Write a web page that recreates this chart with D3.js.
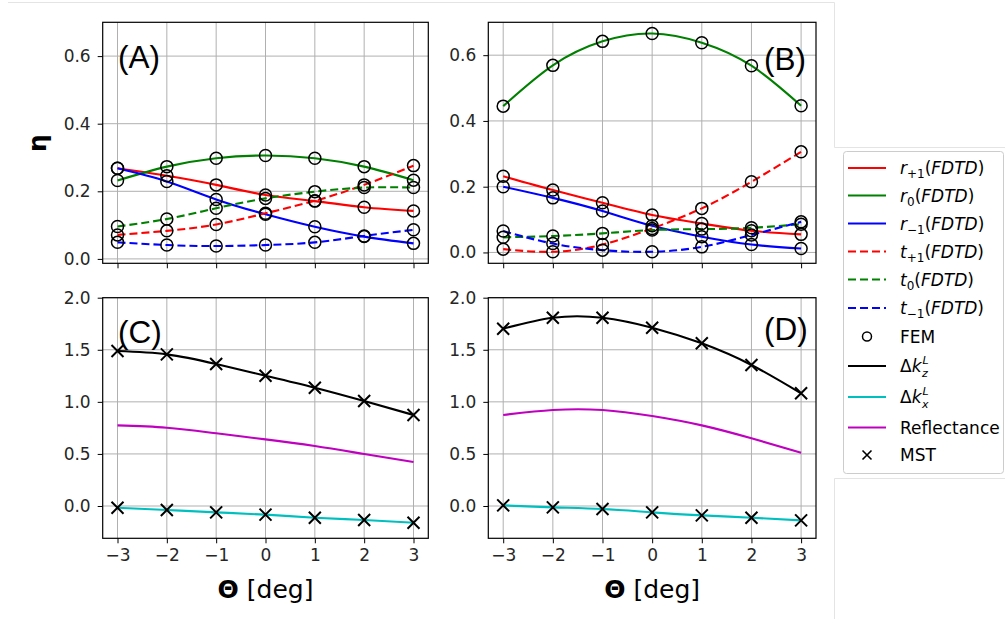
<!DOCTYPE html>
<html><head><meta charset="utf-8">
<script src="https://cdn.jsdelivr.net/npm/d3@7"></script>
<style>
html,body{margin:0;padding:0;background:#fff;}
svg{display:block;font-family:"DejaVu Sans",sans-serif;}
</style></head>
<body>
<svg id="chart" width="1005" height="619"></svg>
<script>
// ---------- data ----------
const theta = [-3, -2, -1, 0, 1, 2, 3];

// Panel A (efficiencies)
const aRp1 = [0.268, 0.246, 0.219, 0.189, 0.171, 0.153, 0.142];
const aR0  = [0.232, 0.273, 0.298, 0.306, 0.298, 0.273, 0.233];
const aRm1 = [0.268, 0.229, 0.176, 0.132, 0.095, 0.066, 0.046];
const aTp1 = [0.071, 0.083, 0.102, 0.135, 0.172, 0.219, 0.276];
const aT0  = [0.096, 0.118, 0.150, 0.179, 0.199, 0.211, 0.211];
const aTm1 = [0.049, 0.041, 0.038, 0.041, 0.049, 0.068, 0.086];

// Panel B (efficiencies)
const bRp1 = [0.232, 0.190, 0.151, 0.114, 0.088, 0.066, 0.055];
const bR0  = [0.445, 0.569, 0.642, 0.666, 0.638, 0.568, 0.446];
const bRm1 = [0.200, 0.166, 0.126, 0.081, 0.048, 0.024, 0.012];
const bTp1 = [0.010, 0.002, 0.024, 0.073, 0.134, 0.215, 0.306];
const bT0  = [0.046, 0.050, 0.058, 0.068, 0.071, 0.075, 0.086];
const bTm1 = [0.065, 0.027, 0.007, 0.002, 0.017, 0.053, 0.093];

// Panel C
const cDkz  = [1.488, 1.456, 1.363, 1.251, 1.136, 1.008, 0.874];
const cDkx  = [-0.016, -0.038, -0.061, -0.083, -0.112, -0.134, -0.160];
const cRefl = [0.774, 0.752, 0.698, 0.640, 0.576, 0.499, 0.422];

// Panel D
const dDkz  = [1.702, 1.808, 1.808, 1.712, 1.562, 1.354, 1.082];
const dDkx  = [0.006, -0.013, -0.029, -0.061, -0.090, -0.112, -0.138];
const dRefl = [0.874, 0.922, 0.922, 0.864, 0.774, 0.650, 0.512];

const xTicks = [-3, -2, -1, 0, 1, 2, 3];
const yTicksTop = [0.0, 0.2, 0.4, 0.6];
const yTicksBottom = [0.0, 0.5, 1.0, 1.5, 2.0];

// ---------- drawing ----------
const svg = d3.select("#chart");
const RED = "#ff0000", GREEN = "#008000", BLUE = "#0000ff",
      CYAN = "#00bfbf", MAG = "#bf00bf", BLACK = "#000000";

// faint background frame artifacts
const art = svg.append("g").attr("stroke", "#e4e4e4").attr("stroke-width", 1).attr("fill", "none");
art.append("path").attr("d", "M8,2.5H834.5V147.5H1005");
art.append("path").attr("d", "M1005,478.5H834.5V619");

function panel(opt) {
  const g = svg.append("g");
  const x = d3.scaleLinear().domain([-3.3, 3.3]).range([opt.left, opt.right]);
  const y = d3.scaleLinear().domain(opt.ydom).range([opt.bottom, opt.top]);
  // grid
  const grid = g.append("g").attr("stroke", "#b0b0b0").attr("stroke-width", 1);
  xTicks.forEach(t => grid.append("line").attr("x1", x(t)).attr("x2", x(t)).attr("y1", opt.top).attr("y2", opt.bottom));
  opt.yticks.forEach(t => grid.append("line").attr("y1", y(t)).attr("y2", y(t)).attr("x1", opt.left).attr("x2", opt.right));
  // axes
  const xa = d3.axisBottom(x).tickValues(xTicks).tickSizeOuter(0).tickSize(5).tickPadding(6)
    .tickFormat(opt.xlabels ? (d => d < 0 ? "\u2212" + Math.abs(d) : String(d)) : "");
  const ya = d3.axisLeft(y).tickValues(opt.yticks).tickSizeOuter(0).tickSize(5).tickPadding(7)
    .tickFormat(d3.format(".1f"));
  const gx = g.append("g").attr("transform", `translate(0,${opt.bottom})`).call(xa);
  const gy = g.append("g").attr("transform", `translate(${opt.left},0)`).call(ya);
  [gx, gy].forEach(a => {
    a.select(".domain").remove();
    a.selectAll("text").attr("font-size", 17).attr("fill", "#262626").attr("font-family", "DejaVu Sans");
    a.selectAll("line").attr("stroke", "#000");
  });
  const clip = "clip" + opt.name;
  g.append("clipPath").attr("id", clip).append("rect")
    .attr("x", opt.left).attr("y", opt.top).attr("width", opt.right - opt.left).attr("height", opt.bottom - opt.top);
  const plot = g.append("g").attr("clip-path", `url(#${clip})`);
  const line = d3.line().x((d, i) => x(theta[i])).y(d => y(d)).curve(d3.curveNatural);
  opt.series.forEach(s => {
    plot.append("path").attr("d", line(s.v)).attr("fill", "none").attr("stroke", s.c)
      .attr("stroke-width", 2.1).attr("stroke-dasharray", s.dash ? "8,4" : null);
  });
  // markers
  (opt.circles || []).forEach(arr => arr.forEach((v, i) => {
    g.append("circle").attr("cx", x(theta[i])).attr("cy", y(v)).attr("r", 6)
      .attr("fill", "none").attr("stroke", "#000").attr("stroke-width", 1.5);
  }));
  (opt.crosses || []).forEach(arr => arr.forEach((v, i) => {
    const cx = x(theta[i]), cy = y(v), s = 6;
    g.append("path").attr("d", `M${cx - s},${cy - s}L${cx + s},${cy + s}M${cx - s},${cy + s}L${cx + s},${cy - s}`)
      .attr("stroke", "#000").attr("stroke-width", 2);
  }));
  // frame
  g.append("rect").attr("x", opt.left).attr("y", opt.top).attr("width", opt.right - opt.left)
    .attr("height", opt.bottom - opt.top).attr("fill", "none").attr("stroke", "#000").attr("stroke-width", 1.2);
  // label
  g.append("text").attr("x", opt.lx).attr("y", opt.ly).attr("font-family", "Liberation Sans, Arial, sans-serif")
    .attr("font-size", 31.5).attr("fill", "#000").text(opt.label);
  if (opt.xlabels) {
    const t = g.append("text").attr("x", (opt.left + opt.right) / 2).attr("y", 598)
      .attr("text-anchor", "middle").attr("font-size", 25).attr("fill", "#000");
    t.append("tspan").attr("font-weight", "bold").text("\u0398");
    t.append("tspan").text(" [deg]");
  }
  return {x, y};
}

const topSeries = (r1, r0, rm1, t1, t0, tm1) => [
  {v: r1, c: RED}, {v: r0, c: GREEN}, {v: rm1, c: BLUE},
  {v: t1, c: RED, dash: true}, {v: t0, c: GREEN, dash: true}, {v: tm1, c: BLUE, dash: true}
];

panel({name: "A", left: 102.7, right: 428.3, top: 22.3, bottom: 263.3, ydom: [-0.013, 0.70],
  yticks: yTicksTop, xlabels: false, label: "(A)", lx: 118, ly: 68,
  series: topSeries(aRp1, aR0, aRm1, aTp1, aT0, aTm1),
  circles: [aRp1, aR0, aRm1, aTp1, aT0, aTm1]});
panel({name: "B", left: 488.3, right: 816, top: 22.3, bottom: 263.3, ydom: [-0.033, 0.70],
  yticks: yTicksTop, xlabels: false, label: "(B)", lx: 764, ly: 70,
  series: topSeries(bRp1, bR0, bRm1, bTp1, bT0, bTm1),
  circles: [bRp1, bR0, bRm1, bTp1, bT0, bTm1]});
panel({name: "C", left: 102.7, right: 428.3, top: 297.7, bottom: 538.3, ydom: [-0.31, 2.0],
  yticks: yTicksBottom, xlabels: true, label: "(C)", lx: 118, ly: 343,
  series: [{v: cDkz, c: BLACK}, {v: cDkx, c: CYAN}, {v: cRefl, c: MAG}],
  crosses: [cDkz, cDkx]});
panel({name: "D", left: 488.3, right: 816, top: 297.7, bottom: 538.3, ydom: [-0.31, 2.0],
  yticks: yTicksBottom, xlabels: true, label: "(D)", lx: 764, ly: 340,
  series: [{v: dDkz, c: BLACK}, {v: dDkx, c: CYAN}, {v: dRefl, c: MAG}],
  crosses: [dDkz, dDkx]});

// y label
svg.append("text").attr("transform", "translate(46,143) rotate(-90)").attr("text-anchor", "middle")
  .attr("font-size", 25).attr("font-weight", "bold").attr("fill", "#000").text("\u03b7");

// ---------- legend ----------
const leg = svg.append("g");
leg.append("rect").attr("x", 843.5).attr("y", 151.5).attr("width", 160).attr("height", 322).attr("rx", 3)
  .attr("fill", "#fff").attr("stroke", "#cccccc").attr("stroke-width", 1);
const legItems = [
  {type: "line", c: RED, base: "r", sub: "+1", y: 168},
  {type: "line", c: GREEN, base: "r", sub: "0", y: 195.5},
  {type: "line", c: BLUE, base: "r", sub: "\u22121", y: 223.5},
  {type: "dash", c: RED, base: "t", sub: "+1", y: 251.5},
  {type: "dash", c: GREEN, base: "t", sub: "0", y: 279.5},
  {type: "dash", c: BLUE, base: "t", sub: "\u22121", y: 308},
  {type: "circle", text: "FEM", y: 336.5},
  {type: "line", c: BLACK, dk: "z", y: 366},
  {type: "line", c: CYAN, dk: "x", y: 397},
  {type: "line", c: MAG, text: "Reflectance", y: 427.5},
  {type: "cross", text: "MST", y: 455}
];
const FS = 17;
legItems.forEach(it => {
  const gy = it.y;
  if (it.type === "line" || it.type === "dash") {
    leg.append("line").attr("x1", 848).attr("x2", 886).attr("y1", gy).attr("y2", gy)
      .attr("stroke", it.c).attr("stroke-width", 2.1).attr("stroke-dasharray", it.type === "dash" ? "8,4" : null);
  } else if (it.type === "circle") {
    leg.append("circle").attr("cx", 867).attr("cy", gy).attr("r", 4.5).attr("fill", "none")
      .attr("stroke", "#000").attr("stroke-width", 1.5);
  } else if (it.type === "cross") {
    const s = 4.5;
    leg.append("path").attr("d", `M${867 - s},${gy - s}L${867 + s},${gy + s}M${867 - s},${gy + s}L${867 + s},${gy - s}`)
      .attr("stroke", "#000").attr("stroke-width", 1.6);
  }
  const tx = 900, ty = gy + 6;
  if (it.text) {
    leg.append("text").attr("x", tx).attr("y", ty).attr("font-size", FS).attr("fill", "#000").text(it.text);
  } else if (it.base) {
    const t = leg.append("text").attr("x", tx).attr("y", ty).attr("font-size", FS).attr("fill", "#000");
    t.append("tspan").attr("font-style", "italic").text(it.base);
    t.append("tspan").attr("font-size", 12).attr("dy", 4).text(it.sub);
    t.append("tspan").attr("dy", -4).text("(");
    t.append("tspan").attr("font-style", "italic").text("FDTD");
    t.append("tspan").text(")");
  } else if (it.dk) {
    // Δk with stacked superscript L and subscript z/x, as one text element
    const t = leg.append("text").attr("x", tx).attr("y", ty).attr("font-size", FS).attr("fill", "#000");
    t.append("tspan").text("\u0394");
    t.append("tspan").attr("font-style", "italic").text("k");
    const w = t.node().getComputedTextLength();
    t.append("tspan").attr("x", tx + w + 1).attr("dy", -8).attr("font-size", 11)
      .attr("font-style", "italic").text("L");
    t.append("tspan").attr("x", tx + w + 0.5).attr("dy", 13).attr("font-size", 11)
      .attr("font-style", "italic").text(it.dk);
  }
});
</script>
</body></html>
